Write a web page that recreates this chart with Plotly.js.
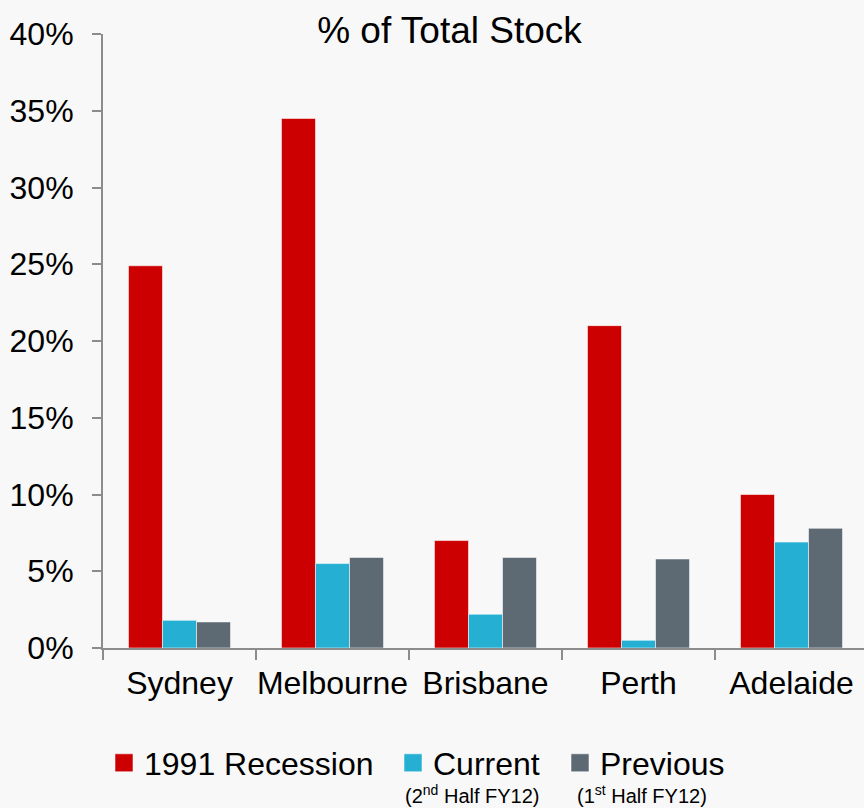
<!DOCTYPE html>
<html>
<head>
<meta charset="utf-8">
<script src="https://cdn.plot.ly/plotly-3.0.1.min.js"></script>
<style>
html, body { margin: 0; padding: 0; background: #f8f8f8; }
#chart { width: 864px; height: 808px; }
</style>
</head>
<body>
<div id="chart"></div>
<script>
var cities = ['Sydney', 'Melbourne', 'Brisbane', 'Perth', 'Adelaide'];
var recession1991 = [24.9, 34.5, 7.0, 21.0, 10.0];
var current = [1.8, 5.5, 2.2, 0.5, 6.9];
var previous = [1.7, 5.9, 5.9, 5.8, 7.8];
var seriesNames = ['1991 Recession', 'Current', 'Previous'];
var subLabels = ['(2<sup>nd</sup> Half FY12)', '(1<sup>st</sup> Half FY12)'];
var yTickVals = [0, 5, 10, 15, 20, 25, 30, 35, 40];

var FONT = 'Liberation Sans, Arial, Helvetica, sans-serif';
var colors = ['#cc0000', '#25afd2', '#5e6a73'];
var seriesData = [recession1991, current, previous];
var legendIds = ['legend', 'legend2', 'legend3'];

var traces = seriesData.map(function (vals, i) {
  return {
    type: 'bar',
    name: seriesNames[i],
    x: cities,
    y: vals,
    legend: legendIds[i],
    marker: { color: colors[i], line: { color: 'rgba(255,255,255,0.55)', width: 1 } },
    hoverinfo: 'x+y+name'
  };
});

function legendCfg(xpx) {
  return {
    x: (xpx - 103) / 761, xref: 'paper', xanchor: 'left',
    y: (648 - 763) / 614, yref: 'paper', yanchor: 'middle',
    orientation: 'h', bgcolor: 'rgba(0,0,0,0)', borderwidth: 0,
    font: { family: FONT, size: 32, color: '#000' },
    itemclick: false, itemdoubleclick: false
  };
}

var layout = {
  width: 864, height: 808,
  paper_bgcolor: '#f8f8f8', plot_bgcolor: '#f8f8f8',
  margin: { l: 103, r: 0, t: 34, b: 160 },
  font: { family: FONT, size: 32, color: '#000' },
  title: {
    text: '% of Total Stock',
    font: { family: FONT, size: 37, color: '#000' },
    x: 449.5 / 864, xref: 'container', xanchor: 'center',
    y: 1 - 30 / 808, yref: 'container', yanchor: 'middle'
  },
  barmode: 'group',
  bargap: 0.333,
  bargroupgap: 0,
  showlegend: true,
  legend: legendCfg(104),
  legend2: legendCfg(393),
  legend3: legendCfg(560),
  xaxis: {
    type: 'category',
    range: [-0.5, 4.5 - 4 / 153],
    showline: true, linecolor: '#8c8c8c', linewidth: 2,
    ticks: 'outside', ticklen: 10, tickwidth: 2, tickcolor: '#8c8c8c',
    tickson: 'boundaries',
    tickangle: 0,
    showgrid: false, zeroline: false,
    tickfont: { family: FONT, size: 32, color: '#000' },
    ticklabelstandoff: 6
  },
  yaxis: {
    range: [0, 40],
    tickmode: 'array', tickvals: yTickVals,
    ticktext: yTickVals.map(function (v) { return v + '%'; }),
    showline: true, linecolor: '#8c8c8c', linewidth: 2,
    ticks: 'outside', ticklen: 9, tickwidth: 2, tickcolor: '#8c8c8c',
    showgrid: false, zeroline: false,
    tickfont: { family: FONT, size: 32, color: '#000' },
    ticklabelstandoff: 12
  },
  annotations: [
    { text: subLabels[0], xref: 'paper', yref: 'paper',
      x: (472.5 - 103) / 761, y: (648 - 795) / 614, xanchor: 'center', yanchor: 'middle',
      showarrow: false, font: { family: FONT, size: 20, color: '#000' } },
    { text: subLabels[1], xref: 'paper', yref: 'paper',
      x: (641.5 - 103) / 761, y: (648 - 795) / 614, xanchor: 'center', yanchor: 'middle',
      showarrow: false, font: { family: FONT, size: 20, color: '#000' } }
  ]
};

Plotly.newPlot('chart', traces, layout, { displayModeBar: false }).then(function (gd) {
  var paths = gd.querySelectorAll('.legendpoints path');
  paths.forEach(function (p) { p.setAttribute('d', 'M9,9H-9V-9H9Z'); });
});
</script>
</body>
</html>
